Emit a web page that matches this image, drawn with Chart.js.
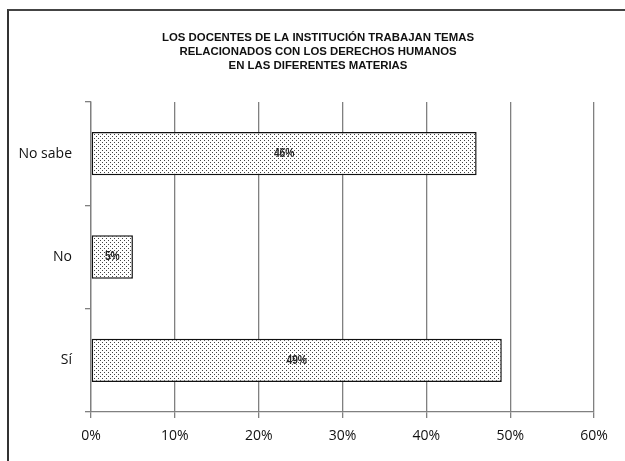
<!DOCTYPE html>
<html>
<head>
<meta charset="utf-8">
<script src="https://cdn.jsdelivr.net/npm/chart.js@4/dist/chart.umd.min.js"></script>
<style>
html,body{margin:0;padding:0;background:#fff;overflow:hidden;}
#frame{position:absolute;left:7px;top:9px;width:700px;height:600px;border-left:2px solid #333;border-top:2px solid #444;box-sizing:border-box;}
#wrap{position:absolute;left:0;top:0;width:625px;height:461px;}
</style>
</head>
<body>
<div id="frame"></div>
<div id="wrap"><canvas id="c" width="625" height="461"></canvas></div>
<script>
const categories = ["No sabe", "No", "Sí"];
const values = [46, 5, 49];
const xTicks = [0, 10, 20, 30, 40, 50, 60];
const titleLines = ["LOS DOCENTES DE LA INSTITUCIÓN TRABAJAN TEMAS", "RELACIONADOS CON LOS DERECHOS HUMANOS", "EN LAS DIFERENTES MATERIAS"];

function makePattern() {
  const p = document.createElement('canvas');
  p.width = 8; p.height = 4;
  const g = p.getContext('2d');
  g.fillStyle = '#fff';
  g.fillRect(0, 0, 8, 4);
  g.fillStyle = '#444';
  g.fillRect(0, 0, 1, 1);
  g.fillRect(4, 0, 1, 1);
  g.fillRect(2, 2, 1, 1);
  g.fillRect(6, 2, 1, 1);
  return document.getElementById('c').getContext('2d').createPattern(p, 'repeat');
}

const titlePlugin = {
  id: 'customTitle',
  afterDraw(chart) {
    const ctx = chart.ctx;
    ctx.save();
    ctx.font = 'bold 11.4px "Liberation Sans", Arial, sans-serif';
    ctx.fillStyle = '#111';
    ctx.textAlign = 'center';
    ctx.textBaseline = 'middle';
    titleLines.forEach((t, i) => ctx.fillText(t, 318, 38 + i * 14));
    ctx.restore();
  }
};

const labelPlugin = {
  id: 'barLabels',
  afterDatasetsDraw(chart) {
    const ctx = chart.ctx;
    const meta = chart.getDatasetMeta(0);
    meta.data.forEach((el, i) => {
      ctx.save();
      ctx.translate((el.x + el.base) / 2, el.y);
      ctx.scale(0.82, 1);
      ctx.font = 'bold 12.5px "Liberation Sans", Arial, sans-serif';
      ctx.fillStyle = '#222';
      ctx.textAlign = 'center';
      ctx.textBaseline = 'middle';
      ctx.fillText(values[i] + '%', 0, 0);
      ctx.restore();
    });
  }
};

new Chart(document.getElementById('c'), {
  type: 'bar',
  data: {
    labels: categories,
    datasets: [{
      data: values,
      backgroundColor: makePattern(),
      borderColor: '#111',
      borderWidth: 1.5,
      borderSkipped: false,
      categoryPercentage: 1,
      barPercentage: 0.42
    }]
  },
  options: {
    indexAxis: 'y',
    responsive: false,
    animation: false,
    devicePixelRatio: 1,
    layout: { padding: { left: 5, right: 31, top: 102, bottom: 0 } },
    plugins: {
      legend: { display: false },
      tooltip: { enabled: false },
      title: { display: false }
    },
    scales: {
      x: {
        min: 0, max: 60,
        afterBuildTicks(axis) { axis.ticks = xTicks.map(v => ({ value: v })); },
        afterFit(axis) { axis.height = 49; },
        ticks: {
          callback: v => v + '%',
          color: '#111',
          font: { family: '"Open Sans", "Noto Sans", sans-serif', size: 14 },
          padding: 10,
          maxRotation: 0
        },
        grid: { color: '#808080', lineWidth: 1.3, tickLength: 6, drawTicks: true },
        border: { color: '#808080', width: 1.3 }
      },
      y: {
        offset: true,
        afterFit(axis) { axis.width = 86; },
        ticks: {
          color: '#111',
          font: { family: '"Open Sans", "Noto Sans", sans-serif', size: 14 },
          padding: 13
        },
        grid: { offset: true, drawOnChartArea: false, drawTicks: true, tickLength: 6, color: '#808080', lineWidth: 1.3 },
        border: { color: '#808080', width: 1.3 }
      }
    }
  },
  plugins: [labelPlugin, titlePlugin]
});
</script>
</body>
</html>
